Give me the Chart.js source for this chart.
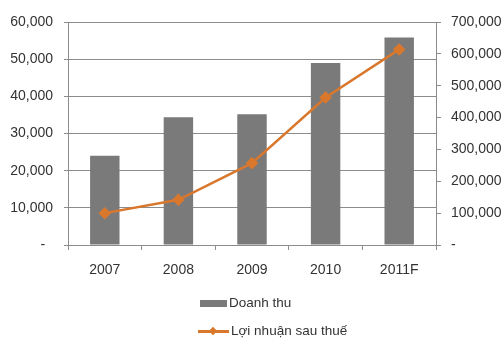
<!DOCTYPE html>
<html>
<head>
<meta charset="utf-8">
<script src="https://cdn.jsdelivr.net/npm/chart.js@4.4.1/dist/chart.umd.min.js"></script>
<style>
  html, body { margin:0; padding:0; background:#fff; }
  #wrap { position:relative; width:504px; height:338px; }
  #chart { position:absolute; left:0; top:0; }
  .leg { position:absolute; font-family:Arial, "Liberation Sans", sans-serif; font-size:13.5px; color:#333; white-space:nowrap; line-height:16px; }
  .sw { position:absolute; }
</style>
</head>
<body>
<div id="wrap">
  <canvas id="chart" width="504" height="338"></canvas>
  <div class="sw" style="left:200px; top:300px; width:27px; height:7px; background:#7a7a7a"></div>
  <div class="leg" style="left:229px; top:295px">Doanh thu</div>
  <div class="sw" style="left:198px; top:330px; width:31px; height:3px; background:#d9782d"></div>
  <div class="sw" style="left:210px; top:328px; width:6px; height:6px; background:#d9782d; transform:rotate(45deg)"></div>
  <div class="leg" style="left:231px; top:323px">Lợi nhuận sau thuế</div>
</div>
<script>
const years = ['2007', '2008', '2009', '2010', '2011F'];
const revenue = [24000, 34400, 35200, 49000, 55800];      // Doanh thu (left axis)
const profit = [100000, 142000, 257000, 463000, 614000];  // Lợi nhuận sau thuế (right axis)
const leftTicks = [0, 10000, 20000, 30000, 40000, 50000, 60000];
const rightTicks = [0, 100000, 200000, 300000, 400000, 500000, 600000, 700000];

const BAR = '#7a7a7a', LINE = '#d9782d', GRID = '#8c8c8c', TXT = '#333';
const FONT = { family: 'Arial, "Liberation Sans", sans-serif', size: 14 };

// accounting style: zero shows as a dash
function fmt(v, pad){ return v === 0 ? '-' + pad : v.toLocaleString('en-US'); }

new Chart(document.getElementById('chart'), {
  data: {
    labels: years,
    datasets: [
      { type:'line', label:'Lợi nhuận sau thuế', data: profit, yAxisID:'y2',
        borderColor: LINE, backgroundColor: LINE, borderWidth: 2.5,
        pointStyle:'rectRot', pointRadius: 4.5, tension: 0, order: 0 },
      { type:'bar', label:'Doanh thu', data: revenue, yAxisID:'y',
        backgroundColor: BAR, barPercentage: 0.4, categoryPercentage: 1, order: 1 }
    ]
  },
  options: {
    responsive: false,
    animation: false,
    layout: { padding: { top: 22, left: 0, right: 0, bottom: 0 } },
    plugins: { legend: { display:false }, tooltip: { enabled:false } },
    scales: {
      x: {
        offset: true,
        grid: { offset: true, drawOnChartArea: false, drawTicks: true, tickLength: 5, color: GRID },
        border: { color: GRID, width: 1 },
        ticks: { color: TXT, font: FONT, padding: 12 },
        afterFit: s => { s.height = 93; }
      },
      y: {
        position: 'left', min: 0, max: 60000,
        afterBuildTicks: s => { s.ticks = leftTicks.map(v => ({ value: v })); },
        grid: { color: GRID, tickLength: 4 },
        border: { color: GRID, width: 1 },
        ticks: { color: TXT, font: FONT, padding: 11, callback: v => fmt(v, '  ') },
        afterFit: s => { s.width = 68; }
      },
      y2: {
        position: 'right', min: 0, max: 700000,
        afterBuildTicks: s => { s.ticks = rightTicks.map(v => ({ value: v })); },
        grid: { drawOnChartArea: false, color: GRID, tickLength: 5 },
        border: { color: GRID, width: 1 },
        ticks: { color: TXT, font: FONT, padding: 10, callback: v => fmt(v, '') },
        afterFit: s => { s.width = 68; }
      }
    }
  }
});
</script>
</body>
</html>
